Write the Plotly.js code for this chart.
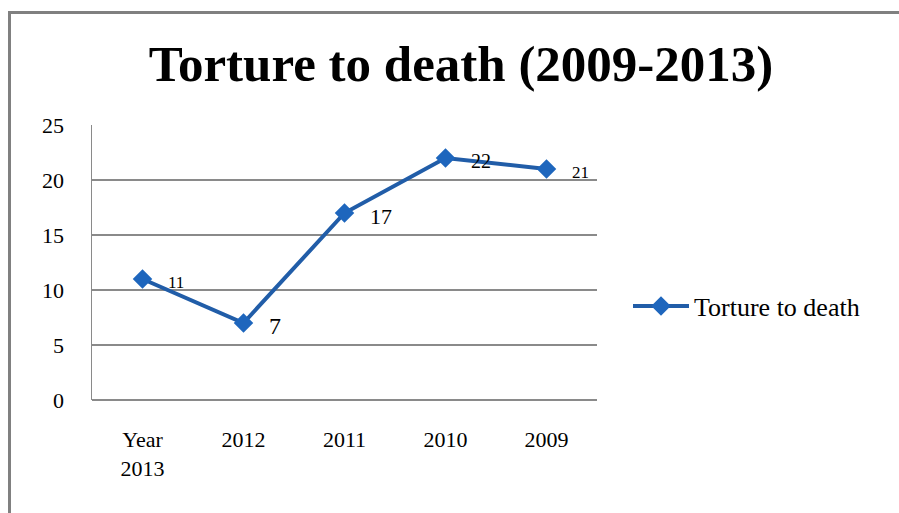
<!DOCTYPE html>
<html>
<head>
<meta charset="utf-8">
<script src="https://cdn.plot.ly/plotly-3.0.1.min.js"></script>
<style>
  html, body { margin: 0; padding: 0; background: #fff; }
  #wrap { position: relative; width: 899px; height: 513px; }
  #chart { width: 899px; height: 513px; }
  #frame { position: absolute; left: 8px; top: 11px; width: 891px; height: 502px;
           border-left: 3px solid #808080; border-top: 3px solid #808080; pointer-events: none; }
</style>
</head>
<body>
<div id="wrap">
  <div id="chart"></div>
  <div id="frame"></div>
</div>
<script>
const categories = ["Year<br>2013", "2012", "2011", "2010", "2009"];
const values = [11, 7, 17, 22, 21];
const labelSizes = [17, 24, 22, 20, 17];
const seriesName = "Torture to death";
const titleText = "Torture to death (2009-2013)";
const yTicks = [0, 5, 10, 15, 20, 25];

const serif = "Liberation Serif, DejaVu Serif, serif";
const lineColor = "#215da8";
const markerColor = "#1e66bd";

const positions = categories.map((c, i) => i);

const trace = {
  x: positions,
  y: values,
  type: "scatter",
  mode: "lines+markers",
  name: seriesName,
  line: { color: lineColor, width: 4 },
  marker: { symbol: "diamond", size: 15, color: markerColor },
  cliponaxis: false
};

const annotations = values.map((v, i) => ({
  x: positions[i],
  y: v,
  xref: "x",
  yref: "y",
  text: String(v),
  showarrow: false,
  xanchor: "left",
  yanchor: "middle",
  xshift: 23,
  yshift: -3,
  font: { family: serif, size: labelSizes[i], color: "#000" }
}));

const layout = {
  width: 899,
  height: 513,
  margin: { l: 92, r: 302, t: 125, b: 113 },
  paper_bgcolor: "#fff",
  plot_bgcolor: "#fff",
  title: {
    text: "<b>" + titleText + "</b>",
    font: { family: serif, size: 51, color: "#000" },
    x: 461 / 899,
    xref: "container",
    xanchor: "center",
    y: 1 - 63 / 513,
    yref: "container",
    yanchor: "middle"
  },
  xaxis: {
    type: "linear",
    range: [-0.5, 4.5],
    tickvals: positions,
    ticktext: categories,
    showgrid: false,
    showline: false,
    zeroline: false,
    ticks: "",
    ticklabelstandoff: 24,
    tickfont: { family: serif, size: 22, color: "#000" },
    fixedrange: true
  },
  yaxis: {
    range: [0, 25],
    tickvals: yTicks,
    showgrid: true,
    gridcolor: "#8a8a8a",
    gridwidth: 1.5,
    showline: true,
    linecolor: "#8a8a8a",
    linewidth: 1.5,
    zeroline: true,
    zerolinecolor: "#8a8a8a",
    zerolinewidth: 1.5,
    ticks: "",
    ticklabelstandoff: 22,
    tickfont: { family: serif, size: 22, color: "#000" },
    fixedrange: true
  },
  showlegend: true,
  legend: {
    xref: "container",
    yref: "container",
    x: 628 / 899,
    xanchor: "left",
    y: 1 - 306 / 513,
    yanchor: "middle",
    itemwidth: 56,
    font: { family: serif, size: 26, color: "#000" },
    bgcolor: "rgba(0,0,0,0)"
  },
  annotations: annotations
};

Plotly.newPlot("chart", [trace], layout, { displayModeBar: false, staticPlot: true });
</script>
</body>
</html>
